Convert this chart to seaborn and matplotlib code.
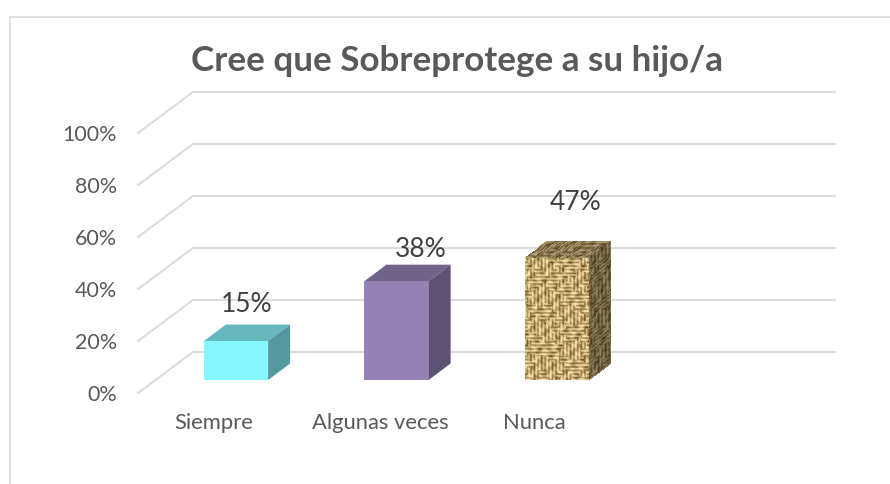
import numpy as np
import pandas as pd
import seaborn as sns
import matplotlib.pyplot as plt
from matplotlib.patches import Polygon, Rectangle
from matplotlib.transforms import Affine2D

categorias = ['Siempre', 'Algunas veces', 'Nunca']
valores = [15, 38, 47]
etiquetas = ['15%', '38%', '47%']
marcas = [0, 20, 40, 60, 80, 100]
titulo = 'Cree que Sobreprotege a su hijo/a'

W, H = 890, 484
PX_CAT = 160.5  # px between bars
PX_VAL = 2.6    # px per percent
GRIS = '#595959'
LINEA = '#dcdcdc'


def tejido(filas, cols, oscuro=1.0):
    # burlap look, woven blocks that wander a bit, with uneven dark patches
    i, j = np.mgrid[0:filas, 0:cols]
    bi = (i + 3 * np.sin(j * 0.29)) // 7
    bj = (j + 3 * np.sin(i * 0.23)) // 8
    bloque = (bi + bj + (np.sin(bi * 1.9) * np.sin(bj * 2.3) > 0.45)) % 2
    hilo = np.where(bloque == 0, np.cos(i * 2 * np.pi / 3.6), np.cos(j * 2 * np.pi / 3.6))
    mancha = np.sin(i * 0.31 + j * 0.13) * np.sin(j * 0.47 - i * 0.17)
    mancha = mancha + 0.6 * np.sin(i * 0.83 + 1.7) * np.sin(j * 0.71 + i * 0.23)
    t = np.clip(0.6 + 0.26 * hilo + 0.26 * mancha, 0, 1)[..., None]
    claro = np.array([0.96, 0.88, 0.66])
    fondo = np.array([0.44, 0.31, 0.11])
    return (fondo + (claro - fondo) * t) * oscuro


def cara(ax, x0, x1, dx, y0, y1, dy, rgb):
    # face drawn as a sheared grid so the texture follows the depth
    f, c = rgb.shape[:2]
    u, v = np.meshgrid(np.linspace(0, 1, c + 1), np.linspace(0, 1, f + 1))
    X = x0 + (x1 - x0) * u + dx * v
    Y = y0 + (y1 - y0) * v + dy * u
    ax.pcolormesh(X, Y, rgb, shading='flat', zorder=3, rasterized=True, linewidth=0)


sns.set_theme(style='white')
plt.rcParams['font.family'] = ['Lato', 'DejaVu Sans']

fig = plt.figure(figsize=(W / 100, H / 100), dpi=100)
ax = fig.add_axes([138 / W, 1 - 380 / H, (835 - 138) / W, 260 / H])

posiciones = np.arange(len(categorias))
df = pd.DataFrame({'categoria': categorias, 'posicion': posiciones, 'valor': valores})
sns.barplot(data=df, x='posicion', y='valor', hue='categoria', native_scale=True, dodge=False, width=0.4,
            palette=['#84f6fd', '#9681b4', '#c9a866'], saturation=1, legend=False, ax=ax, zorder=4,
            edgecolor='none', linewidth=0)

izq = -(236 - 138) / PX_CAT
ax.set_xlim(izq, izq + (835 - 138) / PX_CAT)
ax.set_ylim(0, 100)
sns.despine(ax=ax, left=True, bottom=True)
ax.set_xlabel('')
ax.set_ylabel('')
ax.patch.set_alpha(0)

# walls
pared_x = 55 / PX_CAT
frente = -13 / PX_VAL
fondo = 28 / PX_VAL
for v in marcas:
    ax.plot([izq, izq + pared_x, ax.get_xlim()[1]], [v + frente, v + fondo, v + fondo],
            color=LINEA, lw=1.5, clip_on=False, zorder=1, solid_joinstyle='miter')

# 3d faces of the bars
prof_x = 22 / PX_CAT
prof_y = 16.5 / PX_VAL
med = 0.2
tapas = ['#66b8bf', '#716388', None]
lados = ['#56989f', '#5e5274', None]
for i, v in enumerate(valores):
    x0, x1 = i - med, i + med
    if tapas[i]:
        ax.add_patch(Polygon([(x0, v), (x1, v), (x1 + prof_x, v + prof_y), (x0 + prof_x, v + prof_y)],
                             fc=tapas[i], ec='none', zorder=3, clip_on=False))
        ax.add_patch(Polygon([(x1, 0), (x1 + prof_x, prof_y), (x1 + prof_x, v + prof_y), (x1, v)],
                             fc=lados[i], ec='none', zorder=3, clip_on=False))
    else:
        ax.patches[i].set_visible(False)
        cara(ax, x0, x1, 0, 0, v, 0, tejido(122, 64))
        cara(ax, x0, x1, prof_x, v, v + prof_y, 0, tejido(16, 64, 0.72))
        cara(ax, x1, x1 + prof_x, 0, 0, v, prof_y, tejido(122, 22, 0.58))

# labels
desp = [(11, 36), (24, 32), (19, 55)]
for i, v in enumerate(valores):
    ax.annotate(etiquetas[i], (i, v), xytext=(desp[i][0] * 0.72, desp[i][1] * 0.72), textcoords='offset points',
                ha='center', va='center', fontsize=19, color='#404040', zorder=6)

ax.set_xticks(posiciones)
ax.set_xticklabels(categorias)
ax.set_yticks(marcas)
ax.set_yticklabels([f'{m}%' for m in marcas])
ax.tick_params(axis='y', length=0, pad=15, labelsize=15.5, labelcolor=GRIS)
ax.tick_params(axis='x', length=0, pad=24, labelsize=15.8, labelcolor=GRIS)
for t in ax.get_yticklabels():
    t.set_transform(t.get_transform() + Affine2D().translate(0, -13))
for t, d in zip(ax.get_xticklabels(), [-22, -16, -23]):
    t.set_transform(t.get_transform() + Affine2D().translate(d, 0))

fig.text(457 / W, 1 - 61 / H, titulo, ha='center', va='center', fontsize=25.2, fontweight='bold', color=GRIS)

# chart border, runs off the right and bottom of the picture
fig.add_artist(Rectangle((9.5 / W, -0.1), 1.1, 1.1 - 16.5 / H, transform=fig.transFigure,
                         fc='none', ec=LINEA, lw=1.2))

fig.savefig('out.png', dpi=100)
